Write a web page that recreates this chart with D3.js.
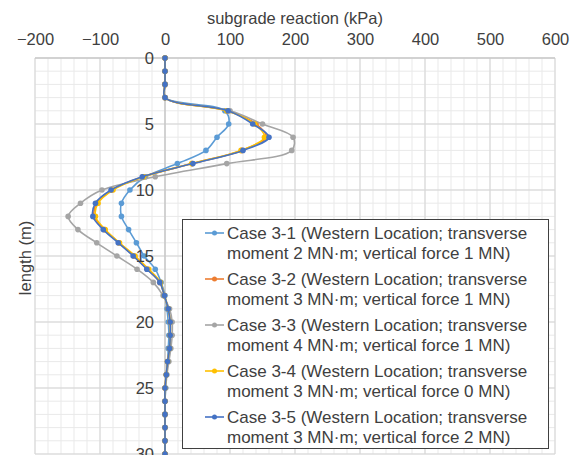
<!DOCTYPE html>
<html>
<head>
<meta charset="utf-8">
<script src="https://cdn.jsdelivr.net/npm/d3@7/dist/d3.min.js"></script>
<style>
  html, body { margin: 0; padding: 0; background: #fff; overflow: hidden; }
  svg { display: block; }
  text { font-family: "Liberation Sans", Arial, sans-serif; fill: #404040; }
</style>
</head>
<body>
<svg id="chart" width="573" height="455"></svg>
<script>
// depth along the pile (m), one reading per metre
const depths = d3.range(0, 31);

// subgrade reaction (kPa) at each depth
const case31 = [0,0,0,0,92,98,80,63,19,-30,-54,-67,-67,-56,-44,-32,-15,-6,0,3,5,6,5,4,2,1,0,0,0,0,0];
const case32 = [0,0,0,0,96,140,156,118,42,-34,-82,-105,-109,-93,-71,-48,-27,-8,-1,5,8,8,7,4,2,0,0,0,0,0,0];
const case33 = [0,0,0,0,100,150,197,195,95,-15,-97,-130,-149,-134,-105,-74,-43,-18,-3,7,11,11,9,6,3,1,0,0,0,0,0];
const case34 = [0,0,0,0,95,138,153,117,41,-33,-80,-103,-107,-92,-70,-46,-25,-7,-1,5,8,8,7,4,2,0,0,0,0,0,0];
const case35 = [0,0,0,0,97,135,160,120,43,-35,-83,-107,-111,-95,-72,-49,-28,-8,-1,5,8,8,7,4,2,0,0,0,0,0,0];

const seriesNames = [
  ["Case 3-1 (Western Location; transverse", "moment 2 MN\u00b7m; vertical force 1 MN)"],
  ["Case 3-2 (Western Location; transverse", "moment 3 MN\u00b7m; vertical force 1 MN)"],
  ["Case 3-3 (Western Location; transverse", "moment 4 MN\u00b7m; vertical force 1 MN)"],
  ["Case 3-4 (Western Location; transverse", "moment 3 MN\u00b7m; vertical force 0 MN)"],
  ["Case 3-5 (Western Location; transverse", "moment 3 MN\u00b7m; vertical force 2 MN)"]
];
const seriesValues = [case31, case32, case33, case34, case35];
const seriesColors = ["#5B9BD5", "#ED7D31", "#A5A5A5", "#FFC000", "#4472C4"];

const xTicks = [-200, -100, 0, 100, 200, 300, 400, 500, 600];
const yTicks = [0, 5, 10, 15, 20, 25, 30];

const svg = d3.select("#chart");
const x = d3.scaleLinear().domain([-200, 600]).range([35, 555]);
const y = d3.scaleLinear().domain([0, 30]).range([58, 454]);

// gridlines: minor every 20 kPa / 1 m, major every 100 kPa / 5 m
const grid = svg.append("g");
grid.selectAll("line.vminor").data(d3.range(-200, 601, 20)).join("line")
  .attr("x1", d => x(d)).attr("x2", d => x(d))
  .attr("y1", y(0)).attr("y2", y(30))
  .attr("stroke", "#e9e9e9").attr("stroke-width", 1);
grid.selectAll("line.hminor").data(d3.range(0, 31, 1)).join("line")
  .attr("x1", x(-200)).attr("x2", x(600))
  .attr("y1", d => y(d)).attr("y2", d => y(d))
  .attr("stroke", "#e9e9e9").attr("stroke-width", 1);
grid.selectAll("line.vmajor").data(xTicks).join("line")
  .attr("x1", d => x(d)).attr("x2", d => x(d))
  .attr("y1", y(0)).attr("y2", y(30))
  .attr("stroke", "#d6d6d6").attr("stroke-width", 1);
grid.selectAll("line.hmajor").data(yTicks).join("line")
  .attr("x1", x(-200)).attr("x2", x(600))
  .attr("y1", d => y(d)).attr("y2", d => y(d))
  .attr("stroke", "#d6d6d6").attr("stroke-width", 1);

// axis lines (top edge and the zero line)
svg.append("line").attr("x1", x(-200)).attr("x2", x(600))
  .attr("y1", y(0)).attr("y2", y(0)).attr("stroke", "#bfbfbf");
svg.append("line").attr("x1", x(0)).attr("x2", x(0))
  .attr("y1", y(0)).attr("y2", y(30)).attr("stroke", "#bfbfbf");

// top axis labels
const xAxis = d3.axisTop(x).tickValues(xTicks).tickSize(0).tickPadding(13);
const gx = svg.append("g").attr("transform", `translate(0,${y(0)})`).call(xAxis);
gx.select(".domain").remove();
gx.selectAll("text").style("font-size", "16.5px").attr("fill", "#404040")
  .style("font-family", "'Liberation Sans', Arial, sans-serif");

// series
const line = d3.line()
  .x(d => x(d[1]))
  .y(d => y(d[0]))
  .curve(d3.curveCatmullRom.alpha(0.5));

seriesValues.forEach((vals, i) => {
  const pts = depths.map((d, k) => [d, vals[k]]);
  const g = svg.append("g");
  g.append("path").datum(pts)
    .attr("d", line).attr("fill", "none")
    .attr("stroke", seriesColors[i]).attr("stroke-width", 1.6);
  g.selectAll("circle").data(pts).join("circle")
    .attr("cx", d => x(d[1])).attr("cy", d => y(d[0])).attr("r", 2.8)
    .attr("fill", seriesColors[i]);
});

// depth labels beside the zero line
const yAxis = d3.axisLeft(y).tickValues(yTicks).tickSize(0).tickPadding(11);
const gy = svg.append("g").attr("transform", `translate(${x(0)},0)`).call(yAxis);
gy.select(".domain").remove();
gy.selectAll("text").style("font-size", "16.5px").attr("fill", "#404040")
  .style("font-family", "'Liberation Sans', Arial, sans-serif");

// axis titles
svg.append("text").attr("x", (x(-200) + x(600)) / 2).attr("y", 24)
  .attr("text-anchor", "middle").style("font-size", "16.5px")
  .text("subgrade reaction (kPa)");
svg.append("text").attr("transform", "translate(31,258) rotate(-90)")
  .attr("text-anchor", "middle").style("font-size", "16.5px")
  .text("length (m)");

// legend
const lg = svg.append("g");
lg.append("rect").attr("x", 182.5).attr("y", 219.5).attr("width", 366).attr("height", 229)
  .attr("fill", "#fff").attr("stroke", "#404040").attr("stroke-width", 1);
seriesNames.forEach((lines, i) => {
  const cy = 233 + i * 46;
  lg.append("line").attr("x1", 205).attr("x2", 224).attr("y1", cy).attr("y2", cy)
    .attr("stroke", seriesColors[i]).attr("stroke-width", 1.6);
  lg.append("circle").attr("cx", 214.5).attr("cy", cy).attr("r", 2.5).attr("fill", seriesColors[i]);
  lines.forEach((t, j) => {
    lg.append("text").attr("x", 227).attr("y", cy + j * 20.5).attr("dy", "0.35em")
      .style("font-size", "17px").text(t);
  });
});
</script>
</body>
</html>
